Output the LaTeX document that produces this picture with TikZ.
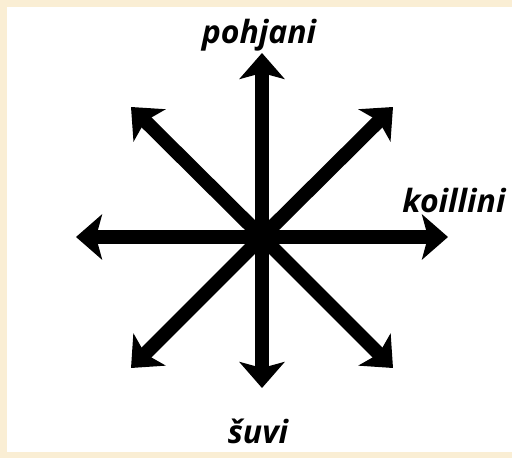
\documentclass[tikz,border=0pt]{standalone}
\usepackage{fontspec}
\setmainfont{Open Sans}
\usetikzlibrary{arrows.meta}
\definecolor{paper}{RGB}{250,238,212}
\begin{document}
\begin{tikzpicture}[x=0.5pt,y=-0.5pt,
  dir/.style={line width=7pt,-{Stealth[length=13pt,width=22.5pt,inset=3pt]}},
  lbl/.style={anchor=base,inner sep=0pt,font=\fontsize{16}{18}\selectfont\bfseries\itshape}]
\useasboundingbox (0,0) rectangle (512,458);
\fill[paper] (0,0) rectangle (512,458);
\fill[white] (7,7) rectangle (512,452);
\coordinate (o) at (262,237);
\coordinate (n) at (262,53);
\coordinate (s) at (262,388);
\coordinate (w) at (76,237);
\coordinate (e) at (448,237);
\coordinate (nw) at (131,107);
\coordinate (ne) at (393,107);
\coordinate (sw) at (131,368);
\coordinate (se) at (393,368);
\draw[dir] (o)--(n);
\draw[dir] (o)--(s);
\draw[dir] (o)--(w);
\draw[dir] (o)--(e);
\draw[dir] (o)--(nw);
\draw[dir] (o)--(ne);
\draw[dir] (o)--(sw);
\draw[dir] (o)--(se);
\node[lbl] (a) at (259,44) {pohjani};
\node[lbl] (b) at (454,213) {koillini};
\node[lbl] (c) at (258,443) {šuvi};
\end{tikzpicture}
\end{document}
